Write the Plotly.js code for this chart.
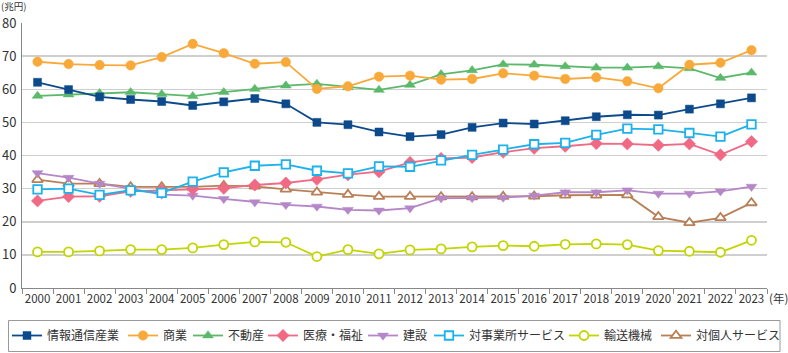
<!DOCTYPE html>
<html><head><meta charset="utf-8">
<script src="https://cdn.plot.ly/plotly-3.0.1.min.js"></script>
<style>html,body{margin:0;padding:0;background:#fff}#c{width:788px;height:353px}</style>
</head><body><div id="c"></div>
<script>
const years = ['2000','2001','2002','2003','2004','2005','2006','2007','2008','2009','2010','2011','2012','2013','2014','2015','2016','2017','2018','2019','2020','2021','2022','2023'];
const seriesNames = ['情報通信産業','商業','不動産','医療・福祉','建設','対事業所サービス','輸送機械','対個人サービス'];
const ict      = [62.1,59.9,57.7,56.9,56.3,55.1,56.2,57.2,55.6,50.0,49.3,47.1,45.7,46.3,48.5,49.8,49.5,50.5,51.7,52.3,52.2,54.0,55.6,57.4];
const commerce = [68.3,67.6,67.3,67.2,69.7,73.7,70.9,67.7,68.2,60.1,60.9,63.8,64.1,62.9,63.1,64.8,64.1,63.1,63.6,62.4,60.3,67.4,68.0,71.8];
const realEstate = [58.0,58.4,58.8,59.1,58.5,57.9,59.1,60.1,61.1,61.6,60.6,59.8,61.3,64.5,65.7,67.5,67.4,66.9,66.5,66.5,66.9,66.3,63.4,65.0];
const medical  = [26.3,27.6,27.7,29.2,29.5,29.9,30.1,31.1,31.7,32.8,34.2,35.1,37.9,39.1,39.4,41.0,42.2,42.8,43.6,43.5,43.1,43.5,40.2,44.2];
const construction = [34.7,33.3,31.5,30.0,28.2,27.9,26.9,25.9,25.1,24.6,23.6,23.4,24.1,27.1,27.2,27.3,27.9,28.9,28.9,29.5,28.5,28.5,29.2,30.6];
const bizService = [29.8,30.0,28.1,29.5,28.7,32.1,34.9,36.9,37.3,35.4,34.6,36.7,36.6,38.5,40.2,41.8,43.4,43.8,46.2,48.1,47.9,46.8,45.7,49.4];
const transport = [10.9,10.9,11.2,11.6,11.6,12.1,13.1,13.9,13.8,9.5,11.6,10.3,11.5,11.8,12.4,12.8,12.6,13.2,13.3,13.1,11.3,11.1,10.8,14.4];
const personalService = [32.7,31.5,31.5,30.5,30.5,30.5,30.9,30.7,29.8,28.9,28.2,27.6,27.6,27.5,27.5,27.6,27.7,28.0,28.0,28.1,21.5,19.7,21.2,25.7];
const yTicks = [0,10,20,30,40,50,60,70,80];

// figure geometry (pixels)
const W = 788, H = 353, ML = 22, MR = 21, MT = 23, MB = 65;
const PW = W - ML - MR, PH = H - MT - MB;
const px2x = p => (p - ML) / PW;
const py2y = p => (H - MB - p) / PH;

const values = [ict, commerce, realEstate, medical, construction, bizService, transport, personalService];
const styles = [
  {color:'#0d4a8c', symbol:'square', size:8, fill:'#0d4a8c'},
  {color:'#f9a93a', symbol:'circle', size:9.5, fill:'#f9a93a'},
  {color:'#5cb86a', symbol:'triangle-up', size:9.5, fill:'#5cb86a'},
  {color:'#f06a85', symbol:'diamond', size:9.5, fill:'#f06a85'},
  {color:'#b586c8', symbol:'triangle-down', size:9.5, fill:'#b586c8'},
  {color:'#1cb2ec', symbol:'square', size:8.5, fill:'#ffffff'},
  {color:'#c2d500', symbol:'circle', size:9, fill:'#ffffff'},
  {color:'#b98058', symbol:'triangle-up', size:9.5, fill:'#ffffff'}
];
// legend text left positions (px) as in the reference
const legendTextX = [47, 163, 228, 303, 403, 469, 604, 696];
const legendIds = ['legend','legend2','legend3','legend4','legend5','legend6','legend7','legend8'];

const traces = values.map((v,i)=>({
  type:'scatter', mode:'lines+markers', x:years, y:v, name:seriesNames[i],
  legend: legendIds[i],
  line:{color:styles[i].color, width:1.8},
  marker:{symbol:styles[i].symbol, size:styles[i].size, color:styles[i].fill,
          line:{color:styles[i].color, width:(styles[i].fill==='#ffffff')?1.8:0.5}}
}));
const order = [6,7,4,3,5,2,1,0];
const data = order.map(i=>traces[i]);

const font = {family:'"Noto Sans CJK JP", "Noto Sans", sans-serif', color:'#333', size:12};
const layout = {
  width:W, height:H,
  margin:{l:ML, r:MR, t:MT, b:MB, autoexpand:false},
  paper_bgcolor:'#fff', plot_bgcolor:'#fff',
  font:font,
  showlegend:true,
  xaxis:{type:'category', range:[-0.5,23.5], tickson:'boundaries', ticks:'outside', ticklen:5, tickangle:0,
         tickcolor:'#888', showline:true, linecolor:'#888', linewidth:1, showgrid:false, automargin:false,
         tickfont:{size:11.5, color:'#333'}},
  yaxis:{range:[0,80], tickvals:yTicks, ticktext:yTicks.map(String), showgrid:true, gridcolor:'#cfcfcf', gridwidth:1.5,
         showline:true, linecolor:'#888', linewidth:1, ticks:'', zeroline:false, automargin:false,
         tickfont:{size:13, color:'#333'}, ticklabelstandoff:2},
  shapes:[
    {type:'rect', xref:'paper', yref:'paper', x0:px2x(8.5), x1:px2x(780), y0:py2y(351.5), y1:py2y(320.5),
     line:{color:'#999', width:1}, fillcolor:'rgba(0,0,0,0)', layer:'below'}
  ],
  annotations:[
    {xref:'paper', yref:'paper', x:px2x(0), y:py2y(6.3), xanchor:'left', yanchor:'middle', text:'(兆円)', showarrow:false, borderpad:0, font:{size:9.5, color:'#333'}},
    {xref:'paper', yref:'paper', x:px2x(767), y:py2y(298), xanchor:'left', yanchor:'middle', text:'(年)', showarrow:false, font:{size:11.5, color:'#333'}},
    {x:years[0], y:ict[0], text:String(ict[0]), showarrow:false, yshift:17, xshift:0, font:{size:13, color:'#333'}},
    {x:years[23], y:ict[23], text:String(ict[23]), showarrow:false, yshift:21, xshift:-3, font:{size:13, color:'#333'}}
  ]
};
legendIds.forEach((id,i)=>{
  layout[id] = {orientation:'h', xref:'paper', yref:'paper', x:px2x(legendTextX[i]-40), xanchor:'left',
                y:py2y(335.5), yanchor:'middle', borderwidth:0, bgcolor:'rgba(0,0,0,0)',
                font:{family:font.family, size:12, color:'#333'}, itemwidth:30};
});
Plotly.newPlot('c', data, layout, {displayModeBar:false, staticPlot:true});
</script></body></html>
